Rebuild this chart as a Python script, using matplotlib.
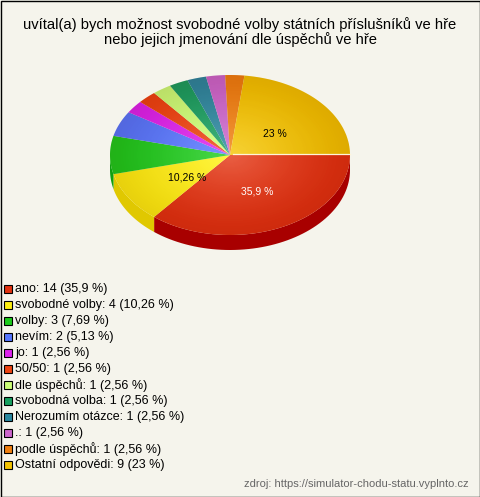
import numpy as np
import matplotlib
matplotlib.use("Agg")
import matplotlib.pyplot as plt
from matplotlib.patches import Polygon, Rectangle, Ellipse

plt.rcParams['font.family'] = ['Liberation Sans', 'DejaVu Sans']

# data
labels = ["ano", "svobodné volby", "volby", "nevím", "jo", "50/50", "dle úspěchů",
          "svobodná volba", "Nerozumím otázce", ".", "podle úspěchů", "Ostatní odpovědi"]
counts = [14, 4, 3, 2, 1, 1, 1, 1, 1, 1, 1, 9]
percents = [35.9, 10.26, 7.69, 5.13, 2.56, 2.56, 2.56, 2.56, 2.56, 2.56, 2.56, 23]
colors = ["#e23210", "#fff010", "#1ccc1c", "#5577ff", "#dd22ee", "#ee4411", "#ccff77",
          "#17a060", "#2a88a0", "#cc66cc", "#f08010", "#f4c400"]
side_colors = ["#a80000", "#e0c800", "#10a010", "#3355cc", "#aa11bb", "#bb3300", "#aacc55",
               "#107a48", "#1a6680", "#aa44aa", "#c06000", "#c89a00"]

title = "uvítal(a) bych možnost svobodné volby státních příslušníků ve hře\nnebo jejich jmenování dle úspěchů ve hře"
source = "zdroj: https://simulator-chodu-statu.vyplnto.cz"

W, H = 480, 497
fig = plt.figure(figsize=(W / 100, H / 100), dpi=100)
fig.patch.set_facecolor("#f5f4ec")
ax = fig.add_axes([0, 0, 1, 1])
ax.set_xlim(0, W)
ax.set_ylim(H, 0)
ax.axis("off")
ax.add_patch(Rectangle((0.5, 0.5), W - 1, H - 1, fill=False, edgecolor="black", lw=1))

ax.text(W / 2, 32, title, ha="center", va="center", fontsize=10.6, linespacing=1.05)

# pie geometry
cx, cy, rx, ry, depth = 230, 155, 120, 80, 15
total = sum(counts)
bounds = np.concatenate([[0], np.cumsum(counts)]) / total * 2 * np.pi


def rim(t):
    return cx + rx * np.cos(t), cy + ry * np.sin(t)


# side walls (front half only)
for i in range(len(counts)):
    a0, a1 = max(bounds[i], 0), min(bounds[i + 1], np.pi)
    if a1 <= a0:
        continue
    t = np.linspace(a0, a1, 60)
    x, y = rim(t)
    pts = np.column_stack([np.r_[x, x[::-1]], np.r_[y, y[::-1] + depth]])
    ax.add_patch(Polygon(pts, closed=True, facecolor=side_colors[i], edgecolor="none", zorder=2))

# top faces
for i in range(len(counts)):
    t = np.linspace(bounds[i], bounds[i + 1], 80)
    x, y = rim(t)
    pts = np.column_stack([np.r_[cx, x], np.r_[cy, y]])
    ax.add_patch(Polygon(pts, closed=True, facecolor=colors[i], edgecolor="none", zorder=3))

# shading overlays: lighter near center, darker toward rim
gx, gy = np.meshgrid(np.linspace(-1, 1, 300), np.linspace(-1, 1, 300))
r = np.clip(np.hypot(gx, gy), 0, 1)
clip = Ellipse((cx, cy), 2 * rx, 2 * ry, transform=ax.transData)
for rgb, alpha in [((1, 1, 1), 0.22 * (1 - r) ** 1.5), ((0.3, 0, 0), 0.13 * r ** 1.5)]:
    layer = np.zeros((300, 300, 4))
    layer[..., :3] = rgb
    layer[..., 3] = alpha
    im = ax.imshow(layer, extent=(cx - rx, cx + rx, cy + ry, cy - ry), zorder=4,
                   interpolation="bilinear")
    im.set_clip_path(clip)

# thin highlight on gold/red border
ax.plot([cx + 3, cx + rx], [cy - 0.8, cy - 0.8], color="#fff4d8", lw=0.9, zorder=5)

# slice labels
for i, p in enumerate(percents):
    if p < 10:
        continue
    mid = (bounds[i] + bounds[i + 1]) / 2
    lx, ly = cx + 4 + 0.46 * rx * np.cos(mid), cy + 3 + 0.46 * ry * np.sin(mid)
    ax.text(lx, ly, f"{p:g}".replace(".", ",") + " %", ha="center", va="center",
            fontsize=7.5, color="white" if i == 0 else "black", zorder=6)

# legend
for i, (lab, c, p) in enumerate(zip(labels, counts, percents)):
    y = 289 + 16 * i
    ax.add_patch(Rectangle((3.5, y - 4), 8, 8, facecolor=colors[i], edgecolor="black",
                           lw=0.8, zorder=5))
    name = lab + ":" if lab != "." else ".:"
    ax.text(15, y, f"{name} {c} ({f'{p:g}'.replace('.', ',')} %)", ha="left",
            va="center", fontsize=9)

ax.text(469, 484, source, ha="right", va="center", fontsize=8, color="#666666")

fig.savefig("out.png", dpi=100, facecolor=fig.get_facecolor())
